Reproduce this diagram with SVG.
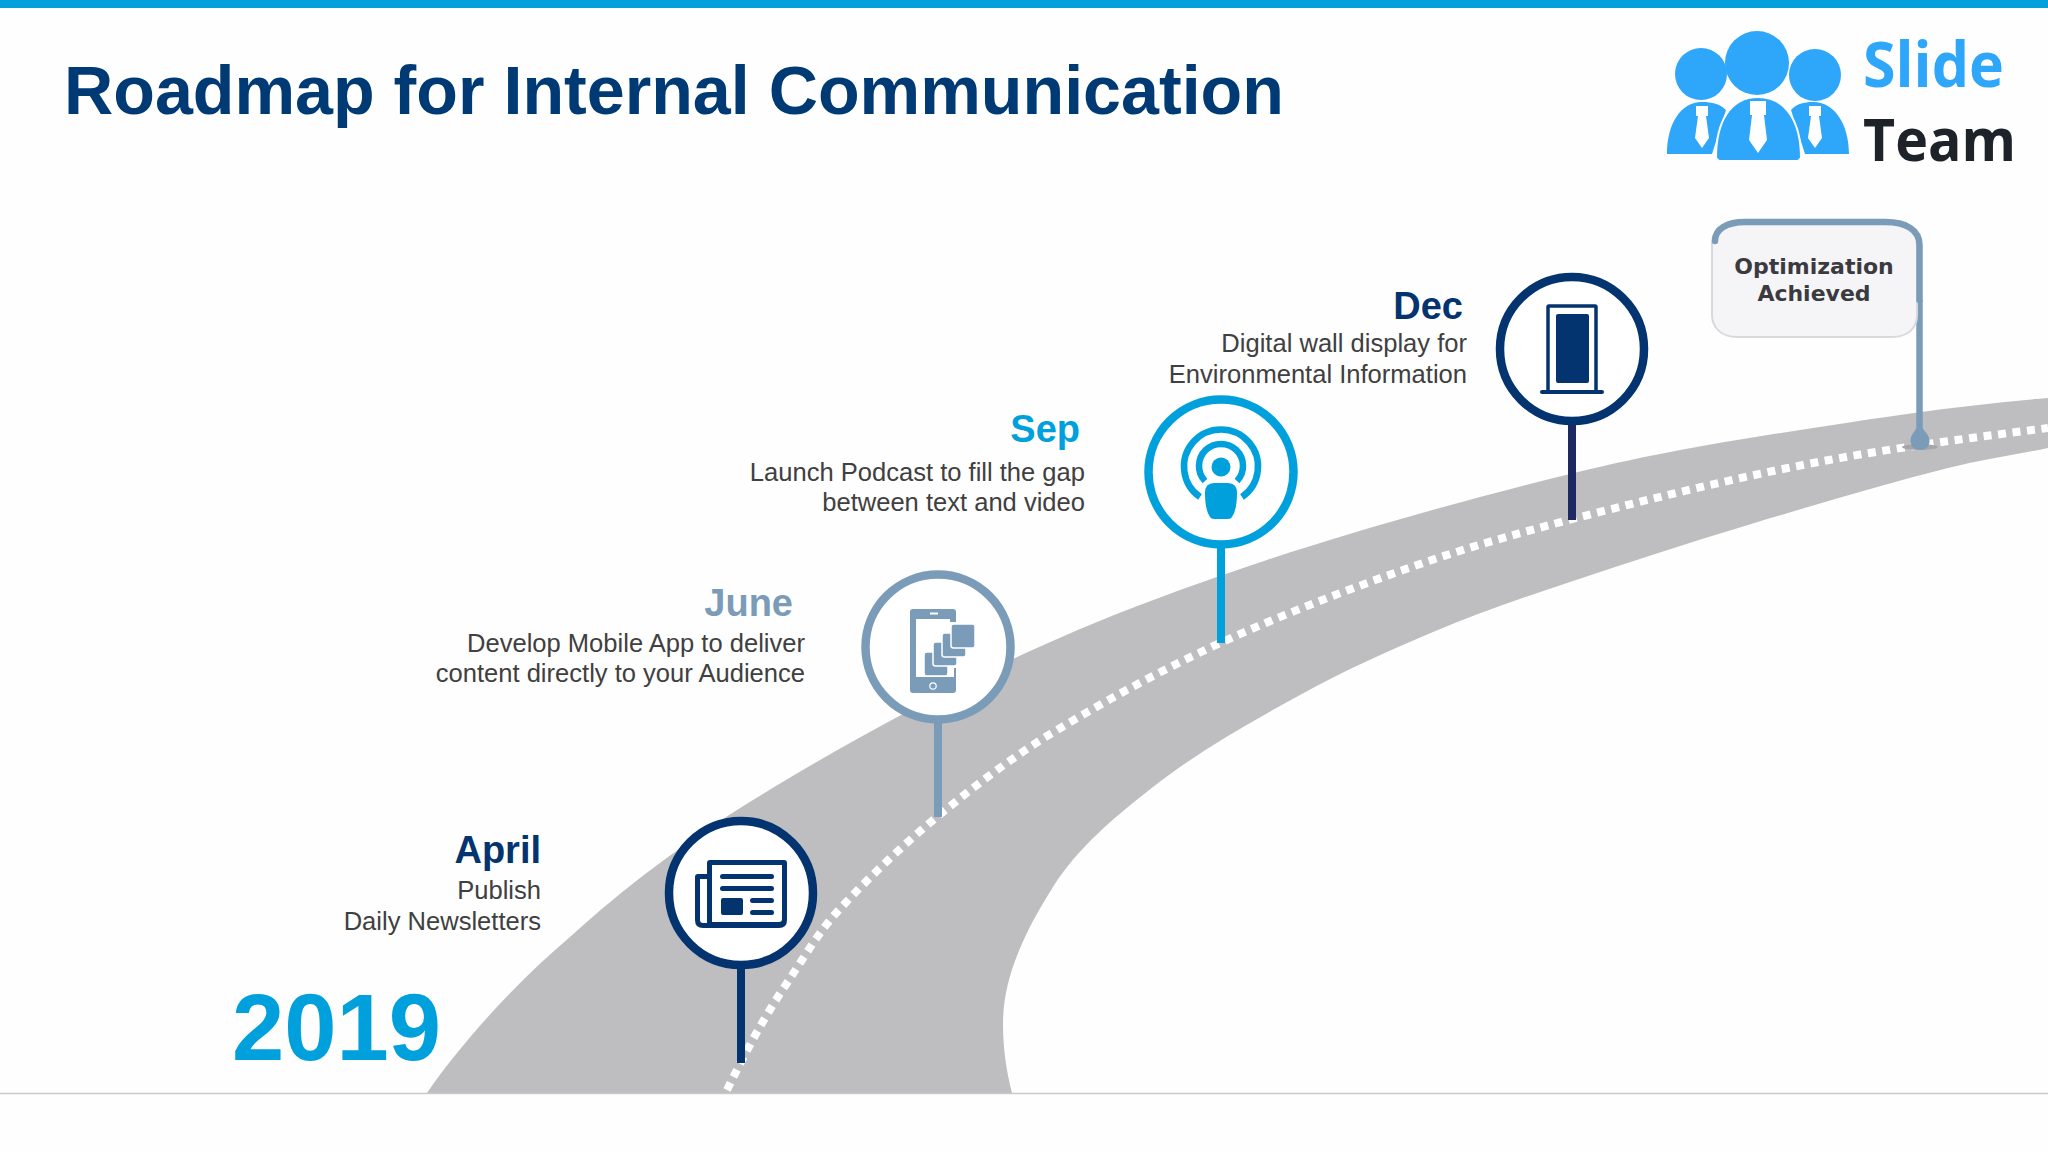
<svg xmlns="http://www.w3.org/2000/svg" width="2048" height="1152" viewBox="0 0 2048 1152">
<style>
text{font-family:"Liberation Sans",Arial,sans-serif}
.t{font-size:68.200px;font-weight:700;fill:#003a75}
.h{font-size:38px;font-weight:700;text-anchor:end}
.d{font-size:25.550px;fill:#404040;text-anchor:end}
.navy{fill:#03346f}.steel{fill:#7b9cb8}.cyan{fill:#00a0dc}
.ring{fill:#fff;stroke-width:8.500}
.stem{fill:none;stroke-width:8}
.nv{stroke:#03346f}.sl{stroke:#7b9cb8}.cy{stroke:#00a0dc}
.logo{font-family:"Open Sans",sans-serif;font-weight:700}
.opt{font-family:"DejaVu Sans",sans-serif;font-size:22px;font-weight:700;fill:#3a3a40;text-anchor:middle}
</style>
<rect width="2048" height="1152" fill="#fefefe"/>
<rect width="2048" height="8" fill="#00a0dc"/>
<path id="road" d="M427,1093 C460,1045 515,983 570,937 C624,888 679,846 753,800 C827,754 929,698 1015,658 C1101,618 1174,591 1267,560 C1360,529 1483,495 1574,473 C1665,451 1734,440 1813,428 C1870,419 1960,405 2048,398 L2048,448 C2015,455 1981,460 1948,468 C1881,485 1814,505 1748,525 C1688,543 1627,563 1567,583 C1522,598 1477,613 1433,632 C1388,651 1343,671 1300,695 C1249,723 1199,751 1153,787 C1116,816 1078,847 1053,887 C1027,928 1003,975 1003,1024 C1003,1047 1006,1070 1012,1093 Z" fill="#bebdbf"/>
<line x1="0" y1="1093.500" x2="2048" y2="1093.500" stroke="#c9c9cc" stroke-width="1.500"/>
<path id="lane" d="M727,1090 C745,1053 764,1017 787,983 C803,959 818,933 837,912 C868,878 903,845 938,816 C976,785 1015,755 1057,730 C1110,698 1164,669 1220,643 C1286,613 1354,587 1423,563 C1475,545 1527,531 1580,517 C1658,497 1735,478 1813,463 C1891,448 1970,438 2048,428" fill="none" stroke="#fff" stroke-width="8" stroke-dasharray="8 6.600"/>
<ellipse cx="1920" cy="447" rx="18" ry="3" fill="#a6a5a9"/>
<g id="connectors">
<line class="stem nv" x1="741" y1="965" x2="741" y2="1063"/>
<line class="stem sl" x1="938" y1="720" x2="938" y2="817"/>
<line class="stem cy" x1="1221" y1="545" x2="1221" y2="643"/>
<line class="stem" stroke="#1d2a62" x1="1572" y1="422" x2="1572" y2="520"/>
<line x1="1919.500" y1="300" x2="1919.500" y2="436" stroke="#7b9cb8" stroke-width="6.500"/>
<path d="M1916,428 C1916,431 1910.500,434 1910.500,441 C1910.500,447 1915,450 1920,450 C1925,450 1929.500,447 1929.500,441 C1929.500,434 1923,431 1923,428 Z" fill="#7b9cb8"/>
</g>
<text class="t" x="64" y="114">Roadmap for Internal Communication</text>
<g id="logo">
<circle cx="1701" cy="74" r="26" fill="#2ea6fa"/><circle cx="1757" cy="63" r="32" fill="#2ea6fa"/><circle cx="1815" cy="75" r="26" fill="#2ea6fa"/>
<path d="M1667,154 C1667,125 1680,102 1702,102 C1712,102 1720,104 1726,110 L1712,154Z M1849,154 C1849,125 1835,102 1813,102 C1804,102 1796,104 1791,110 L1805,154Z" fill="#2ea6fa"/>
<path d="M1716,158 C1716,122 1730,97 1758,97 C1786,97 1801,122 1801,158 L1798,161 L1719,161 Z" fill="#2ea6fa" stroke="#fff" stroke-width="2"/>
<path d="M1750,101 h16 v14 h-2 l3,25 l-9,13 l-9,-13 l3,-25 h-2Z M1696,106 h12 v10 h-2 l3,22 l-7,10 l-7,-10 l3,-22 h-2Z M1809,106 h12 v10 h-2 l3,22 l-7,10 l-7,-10 l3,-22 h-2Z" fill="#fff"/>
<text class="logo" x="1863" y="87" fill="#2ea6fa" font-size="62" textLength="141" lengthAdjust="spacingAndGlyphs">Slide</text>
<text class="logo" x="1863" y="161" fill="#1e2329" font-size="59" textLength="153" lengthAdjust="spacingAndGlyphs">Team</text>
</g>
<text x="232" y="1060" font-size="94" font-weight="700" fill="#00a0dc">2019</text>
<g id="node-april">
<circle class="ring nv" cx="741" cy="893" r="72"/>
<path class="navy" fill-rule="evenodd" d="M710,860 H784 Q787,860 787,863 V920 Q787,928 779,928 H703 Q695,928 695,920 V877 Q695,874 698,874 H707 V863 Q707,860 710,860Z M712,865 V922 H779 Q782,922 782,919 V865Z M700,879 V920 Q700,923 703,923 H707 V879Z"/>
<rect class="navy" x="720" y="874" width="54" height="5" rx="2.500"/><rect class="navy" x="720" y="886" width="54" height="5" rx="2.500"/>
<rect class="navy" x="721" y="898" width="22" height="17" rx="2"/><rect class="navy" x="750" y="898" width="24" height="5" rx="2.500"/><rect class="navy" x="750" y="910" width="24" height="5" rx="2.500"/>
<text class="h navy" x="541" y="863">April</text>
<text class="d" x="541" y="899">Publish</text>
<text class="d" x="541" y="930">Daily Newsletters</text>
</g>
<g id="node-june">
<circle class="ring sl" cx="938" cy="647" r="72.500"/>
<path class="steel" fill-rule="evenodd" d="M913,609 H953 Q956,609 956,612 V622 H950 V619 H916 V677 H956 V690 Q956,693 953,693 H913 Q910,693 910,690 V612 Q910,609 913,609Z"/>
<rect x="930" y="612.500" width="8" height="2" fill="#fff"/>
<circle cx="933" cy="686" r="3.200" fill="none" stroke="#fff" stroke-width="1.200"/>
<rect class="steel" x="954" y="668" width="2" height="10"/>
<rect class="steel" x="924" y="652" width="24" height="24" rx="2.500" stroke="#fff" stroke-width="1.500"/>
<rect class="steel" x="933" y="642" width="24" height="24" rx="2.500" stroke="#fff" stroke-width="1.500"/>
<rect class="steel" x="942" y="633" width="24" height="24" rx="2.500" stroke="#fff" stroke-width="1.500"/>
<rect class="steel" x="951" y="624" width="24" height="24" rx="2.500" stroke="#fff" stroke-width="1.500"/>
<text class="h steel" x="793" y="615.500">June</text>
<text class="d" x="805" y="652">Develop Mobile App to deliver</text>
<text class="d" x="805" y="682">content directly to your Audience</text>
</g>
<g id="node-sep">
<circle class="ring cy" cx="1221" cy="472" r="72.500"/>
<circle class="cyan" cx="1221" cy="467" r="9.500"/>
<path d="M1205,481 A22,22 0 1 1 1237,481" fill="none" stroke="#00a0dc" stroke-width="6.500"/>
<path d="M1200,497 A37,37 0 1 1 1242,497" fill="none" stroke="#00a0dc" stroke-width="6.500"/>
<path class="cyan" d="M1214,483 H1228 Q1237,483 1237,493 Q1237,510 1232,517 Q1231,519 1228,519 H1214 Q1211,519 1210,517 Q1205,510 1205,493 Q1205,483 1214,483Z"/>
<text class="h cyan" x="1080" y="442">Sep</text>
<text class="d" x="1085" y="481">Launch Podcast to fill the gap</text>
<text class="d" x="1085" y="511">between text and video</text>
</g>
<g id="node-dec">
<circle class="ring nv" cx="1572" cy="349" r="72"/>
<rect x="1548" y="306" width="48" height="86" rx="1" fill="none" stroke="#03346f" stroke-width="3.500"/>
<rect class="navy" x="1556" y="314" width="33" height="69" rx="2"/>
<rect class="navy" x="1540" y="390" width="64" height="4" rx="2"/>
<text class="h navy" x="1463" y="318.500">Dec</text>
<text class="d" x="1467" y="352">Digital wall display for</text>
<text class="d" x="1467" y="383">Environmental Information</text>
</g>
<g id="node-optimization">
<path d="M1712,243 C1712,230 1725,222 1745,222 L1885,222 C1905,222 1917,230 1917,245 V315 C1917,328 1908,337 1892,337 H1737 C1722,337 1712,328 1712,315Z" fill="#f5f5f7" stroke="#d9d9dd" stroke-width="2"/>
<path d="M1715,241 C1715,229 1727,222 1745,222 L1885,222 C1906,222 1919.500,230 1919.500,245 L1919.500,300" fill="none" stroke="#7b9cb8" stroke-width="6.500" stroke-linecap="round"/>
<text class="opt" x="1814" y="274">Optimization</text>
<text class="opt" x="1814" y="300.500">Achieved</text>
</g>
</svg>
